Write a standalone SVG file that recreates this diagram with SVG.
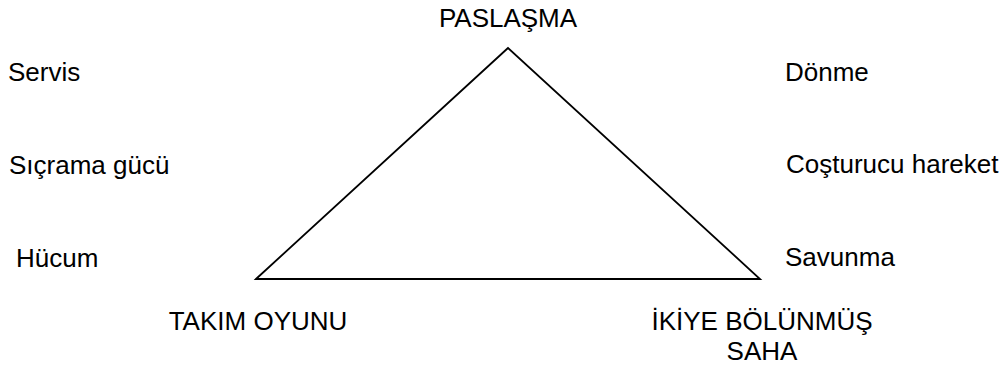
<svg xmlns="http://www.w3.org/2000/svg" width="1007" height="369" viewBox="0 0 1007 369">
<style>
text{font-family:"Liberation Sans",Arial,sans-serif;font-size:26px;fill:#000}
.c{text-anchor:middle}
.tri{fill:none;stroke:#000;stroke-width:1.8;stroke-linejoin:miter}
</style>
<rect width="1007" height="369" fill="#fff"/>
<g id="connectors">
<polygon class="tri" points="508,48 256,279 760,279"/>
</g>
<g id="paslasma"><text class="c" x="508" y="27">PASLAŞMA</text></g>
<g id="takim-oyunu"><text class="c" x="258" y="330">TAKIM OYUNU</text></g>
<g id="ikiye-bolunmus-saha"><text class="c" x="762" y="330">İKİYE BÖLÜNMÜŞ</text><text class="c" x="762" y="360">SAHA</text></g>
<g id="servis"><text x="8" y="81">Servis</text></g>
<g id="sicrama-gucu"><text x="9" y="174">Sıçrama gücü</text></g>
<g id="hucum"><text x="16" y="267">Hücum</text></g>
<g id="donme"><text x="785" y="81">Dönme</text></g>
<g id="costurucu-hareket"><text x="786" y="173">Coşturucu hareket</text></g>
<g id="savunma"><text x="785" y="266">Savunma</text></g>
</svg>
